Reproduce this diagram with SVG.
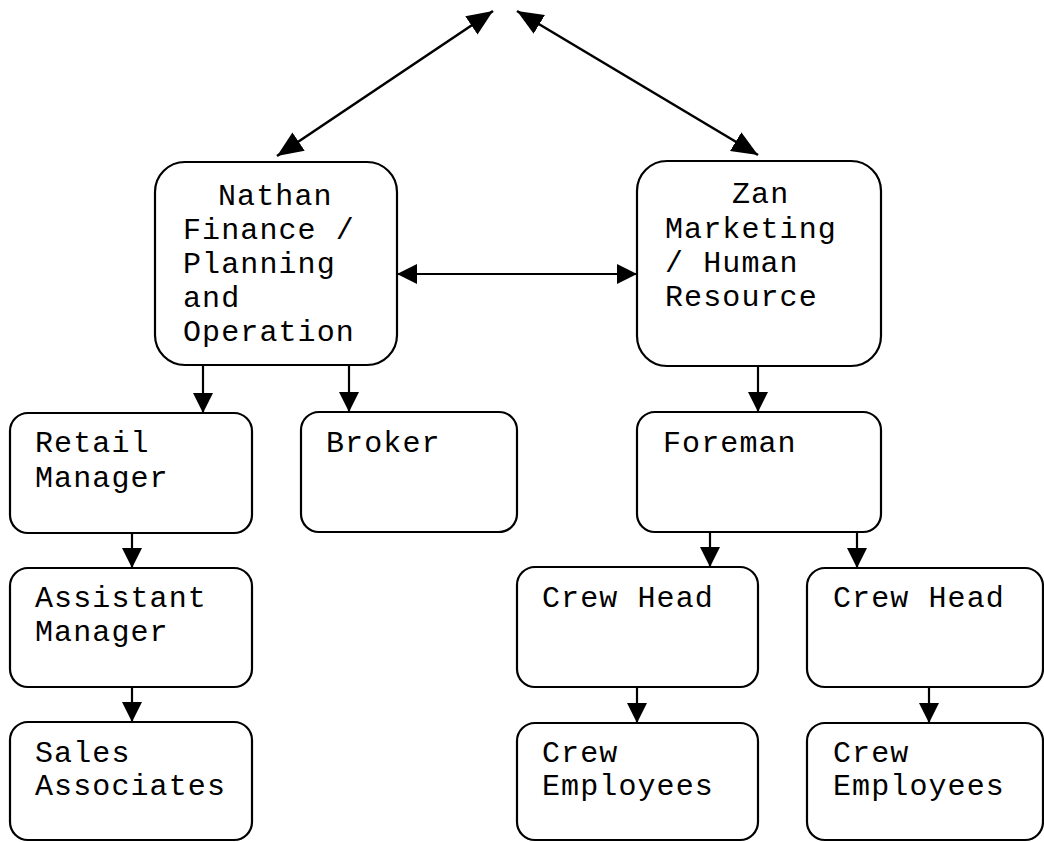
<svg xmlns="http://www.w3.org/2000/svg" width="1044" height="842" viewBox="0 0 1044 842">
<style>
  .box { fill: #ffffff; stroke: #000000; stroke-width: 2.2; }
  .lbl { font-family: "Liberation Mono", "Courier New", monospace; font-size: 30px; letter-spacing: 1.1px; fill: #000000; }
  .conn { stroke: #000000; stroke-width: 2.2; fill: none; }
  .big { marker-start: url(#bigHead); marker-end: url(#bigHead); stroke-width: 2.6; }
  .dbl { marker-start: url(#head); marker-end: url(#head); }
  .one { marker-end: url(#head); }
</style>
<defs>
  <marker id="head" markerUnits="userSpaceOnUse" viewBox="0 0 20 20" markerWidth="20" markerHeight="20" refX="20" refY="10" orient="auto-start-reverse">
    <path d="M0,0 L20,10 L0,20 z" fill="#000000"/>
  </marker>
  <marker id="bigHead" markerUnits="userSpaceOnUse" viewBox="0 0 26 22" markerWidth="26" markerHeight="22" refX="26" refY="11" orient="auto-start-reverse">
    <path d="M0,0 L26,11 L0,22 z" fill="#000000"/>
  </marker>
</defs>
<g id="connectors">
  <line class="conn big" x1="493" y1="11" x2="277" y2="156"/>
  <line class="conn big" x1="517" y1="11" x2="758" y2="155"/>
  <line class="conn dbl" x1="397" y1="274" x2="637" y2="274"/>
  <line class="conn one" x1="203" y1="365" x2="203" y2="413"/>
  <line class="conn one" x1="349" y1="365" x2="349" y2="412"/>
  <line class="conn one" x1="758" y1="366" x2="758" y2="412"/>
  <line class="conn one" x1="132" y1="522" x2="132" y2="568"/>
  <line class="conn one" x1="132" y1="678" x2="132" y2="722"/>
  <line class="conn one" x1="710" y1="522" x2="710" y2="567"/>
  <line class="conn one" x1="857" y1="522" x2="857" y2="568"/>
  <line class="conn one" x1="637" y1="678" x2="637" y2="723"/>
  <line class="conn one" x1="929" y1="678" x2="929" y2="723"/>
</g>
<g id="nathan">
  <rect class="box" x="155" y="162" width="242" height="203" rx="30" ry="30"/>
  <text class="lbl" x="218" y="205">Nathan</text>
  <text class="lbl" x="183" y="239">Finance /</text>
  <text class="lbl" x="183" y="273">Planning</text>
  <text class="lbl" x="183" y="307">and</text>
  <text class="lbl" x="183" y="341">Operation</text>
</g>
<g id="zan">
  <rect class="box" x="637" y="161" width="244" height="205" rx="30" ry="30"/>
  <text class="lbl" x="732" y="203">Zan</text>
  <text class="lbl" x="665" y="238">Marketing</text>
  <text class="lbl" x="665" y="272">/ Human</text>
  <text class="lbl" x="665" y="306">Resource</text>
</g>
<g id="retail-manager">
  <rect class="box" x="10" y="413" width="242" height="120" rx="18" ry="18"/>
  <text class="lbl" x="35" y="452">Retail</text>
  <text class="lbl" x="35" y="487">Manager</text>
</g>
<g id="broker">
  <rect class="box" x="301" y="412" width="216" height="120" rx="18" ry="18"/>
  <text class="lbl" x="326" y="452">Broker</text>
</g>
<g id="foreman">
  <rect class="box" x="637" y="412" width="244" height="120" rx="18" ry="18"/>
  <text class="lbl" x="663" y="452">Foreman</text>
</g>
<g id="assistant-manager">
  <rect class="box" x="10" y="568" width="242" height="119" rx="18" ry="18"/>
  <text class="lbl" x="35" y="607">Assistant</text>
  <text class="lbl" x="35" y="641">Manager</text>
</g>
<g id="crew-head-1">
  <rect class="box" x="517" y="567" width="241" height="120" rx="18" ry="18"/>
  <text class="lbl" x="542" y="607">Crew Head</text>
</g>
<g id="crew-head-2">
  <rect class="box" x="807" y="568" width="236" height="119" rx="18" ry="18"/>
  <text class="lbl" x="833" y="607">Crew Head</text>
</g>
<g id="sales-associates">
  <rect class="box" x="10" y="722" width="242" height="118" rx="18" ry="18"/>
  <text class="lbl" x="35" y="762">Sales</text>
  <text class="lbl" x="35" y="795">Associates</text>
</g>
<g id="crew-employees-1">
  <rect class="box" x="517" y="723" width="241" height="117" rx="18" ry="18"/>
  <text class="lbl" x="542" y="762">Crew</text>
  <text class="lbl" x="542" y="795">Employees</text>
</g>
<g id="crew-employees-2">
  <rect class="box" x="807" y="723" width="236" height="117" rx="18" ry="18"/>
  <text class="lbl" x="833" y="762">Crew</text>
  <text class="lbl" x="833" y="795">Employees</text>
</g>
</svg>
